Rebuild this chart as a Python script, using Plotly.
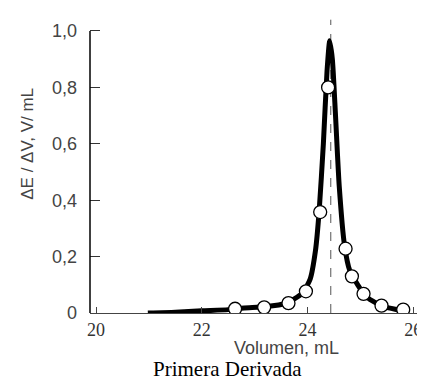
import plotly.graph_objects as go

# Curve (first derivative)
curve_x = [20.98, 21.5, 22.0, 22.5, 22.8, 23.2, 23.6, 23.9, 24.05, 24.15, 24.22, 24.3,
           24.37, 24.42, 24.47, 24.53, 24.6, 24.7, 24.8, 24.95, 25.1, 25.3, 25.5, 25.75]
curve_y = [0.0, 0.003, 0.008, 0.012, 0.018, 0.022, 0.035, 0.07, 0.12, 0.22, 0.36, 0.6,
           0.86, 0.965, 0.9, 0.7, 0.45, 0.24, 0.15, 0.1, 0.06, 0.035, 0.02, 0.01]

# Measured points (open circles)
pts_x = [22.63, 23.18, 23.64, 23.97, 24.24, 24.39, 24.72, 24.84, 25.06, 25.40, 25.81]
pts_y = [0.015, 0.02, 0.035, 0.077, 0.358, 0.80, 0.228, 0.13, 0.068, 0.026, 0.012]

# End point (equivalence volume)
eq_x = 24.44

x_ticks = [20, 22, 24, 26]
y_ticks = [0, 0.2, 0.4, 0.6, 0.8, 1.0]
y_tick_text = ["0", "0,2", "0,4", "0,6", "0,8", "1,0"]

fig = go.Figure()
fig.add_trace(go.Scatter(x=curve_x, y=curve_y, mode="lines",
                         line=dict(color="black", width=5, shape="spline", smoothing=0.6),
                         hoverinfo="skip", showlegend=False))
fig.add_trace(go.Scatter(x=pts_x, y=pts_y, mode="markers",
                         marker=dict(symbol="circle", size=13, color="white",
                                     line=dict(color="black", width=1.3)),
                         showlegend=False))

# vertical dashed line at the equivalence point
fig.add_shape(type="line", xref="x", yref="y", x0=eq_x, x1=eq_x, y0=0, y1=1.04,
              line=dict(color="#555", width=1, dash="dash"), layer="below")
# y axis line from 0 to 1.0
fig.add_shape(type="line", xref="x domain", yref="y", x0=0, x1=0, y0=0, y1=1.0,
              line=dict(color="black", width=1.5))

serif = "Liberation Serif, Times New Roman, serif"
sans = "Liberation Sans, Arial, sans-serif"

fig.update_layout(
    width=425, height=383,
    margin=dict(l=82, r=15, t=10, b=78),
    paper_bgcolor="white", plot_bgcolor="white",
    font=dict(family=sans, color="#333", size=16),
    xaxis=dict(range=[19.886, 26.09], tickvals=x_ticks, ticktext=[str(v) for v in x_ticks],
               showgrid=False, zeroline=False, showline=True, linecolor="#444", linewidth=1,
               ticks="inside", ticklen=6, tickcolor="#444",
               tickfont=dict(family=serif, size=18, color="#333")),
    yaxis=dict(range=[0, 1.046], tickvals=y_ticks, ticktext=y_tick_text,
               showgrid=False, zeroline=False, showline=False,
               ticks="inside", ticklen=10, tickcolor="#333", ticklabelstandoff=12,
               tickfont=dict(family=sans, size=18, color="#444")),
)
# y-axis title
fig.add_annotation(text="ΔE / ΔV, V/ mL", xref="paper", yref="y", x=0, y=0.6,
                   xshift=-62, textangle=-90, xanchor="center", yanchor="middle",
                   showarrow=False, font=dict(family=sans, size=17, color="#444"))
# x-axis title
fig.add_annotation(text="Volumen, mL", xref="x", yref="paper", x=23.6, y=0,
                   yshift=-35, xanchor="center", yanchor="middle", borderpad=0,
                   showarrow=False, font=dict(family=sans, size=18, color="#444"))
# chart caption
fig.add_annotation(text="Primera Derivada", xref="paper", yref="paper", x=0.42, y=0,
                   yshift=-56, xanchor="center", yanchor="middle", showarrow=False,
                   borderpad=0, font=dict(family=serif, size=21, color="black"))

fig.write_html("out.html")
